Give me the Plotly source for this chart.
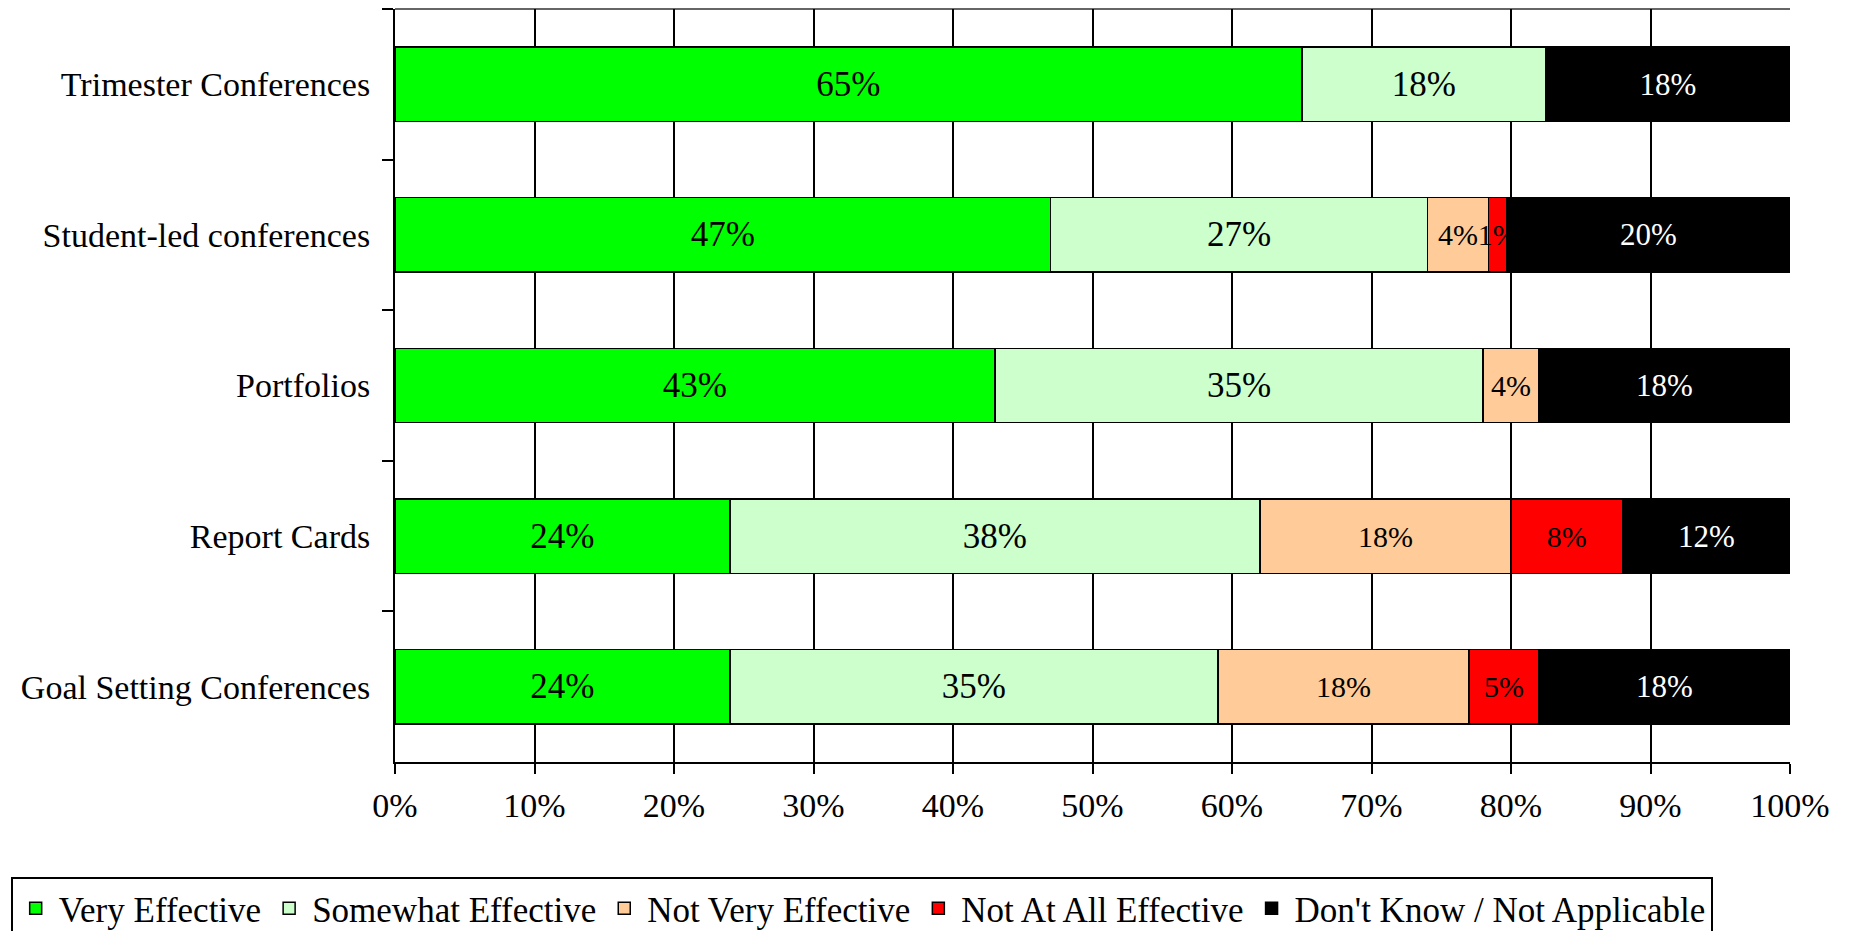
import plotly.graph_objects as go

categories = ["Trimester Conferences", "Student-led conferences", "Portfolios",
              "Report Cards", "Goal Setting Conferences"]

very_effective = [65, 47, 43, 24, 24]
somewhat_effective = [17.5, 27, 35, 38, 35]
not_very_effective = [0, 4.4, 4, 18, 18]
not_at_all_effective = [0, 1.3, 0, 8, 5]
dont_know = [17.5, 20.3, 18, 12, 18]

series_names = ["Very Effective", "Somewhat Effective", "Not Very Effective",
                "Not At All Effective", "Don't Know / Not Applicable"]
series_values = [very_effective, somewhat_effective, not_very_effective,
                 not_at_all_effective, dont_know]
series_colors = ["#00FF00", "#CCFFCC", "#FFCC99", "#FF0000", "#000000"]
text_colors = ["black", "black", "black", "black", "white"]
text_sizes = [35, 35, 30, 30, 31]

x_ticks = list(range(0, 101, 10))

FONT = "Liberation Serif, Times New Roman, serif"

fig = go.Figure()
for name, vals, col, tcol, tsize in zip(series_names, series_values, series_colors,
                                        text_colors, text_sizes):
    fig.add_trace(go.Bar(
        name=name,
        y=categories,
        x=vals,
        orientation="h",
        marker=dict(color=col, line=dict(color="black", width=1.5)),
        text=[f"{round(v)}%" if v > 0 else "" for v in vals],
        textposition="inside",
        insidetextanchor="middle",
        constraintext="none",
        textangle=0,
        textfont=dict(family=FONT, size=tsize, color=tcol),
        hoverinfo="skip",
    ))

fig.update_layout(
    barmode="stack",
    bargap=0.506,
    width=1853,
    height=955,
    margin=dict(l=386.5, r=70.5, t=0.5, b=201),
    paper_bgcolor="white",
    plot_bgcolor="white",
    font=dict(family=FONT, size=34, color="black"),
    showlegend=True,
    legend=dict(
        orientation="h",
        x=-0.2755, xanchor="left",
        y=-0.1526, yanchor="top",
        bordercolor="black",
        borderwidth=2,
        bgcolor="white",
        font=dict(family=FONT, size=35, color="black"),
        itemwidth=36,
        traceorder="normal",
    ),
    xaxis=dict(
        range=[0, 100],
        tickvals=x_ticks,
        ticktext=[f"{t}%" for t in x_ticks],
        showgrid=True,
        gridcolor="black",
        gridwidth=2,
        zeroline=False,
        showline=True,
        linecolor="black",
        linewidth=2,
        ticks="outside",
        ticklen=10,
        tickwidth=2,
        tickcolor="black",
        ticklabelstandoff=2,
        tickfont=dict(family=FONT, size=34, color="black"),
        fixedrange=True,
    ),
    yaxis=dict(
        categoryorder="array",
        categoryarray=categories,
        autorange="reversed",
        showgrid=False,
        zeroline=False,
        showline=True,
        linecolor="black",
        linewidth=2,
        ticks="outside",
        tickson="boundaries",
        ticklen=11,
        tickwidth=2,
        tickcolor="black",
        ticklabelstandoff=16,
        tickfont=dict(family=FONT, size=34, color="black"),
        fixedrange=True,
    ),
    shapes=[dict(type="line", xref="paper", yref="paper", x0=0, x1=1, y0=1, y1=1,
                 line=dict(color="#666666", width=2), layer="below")],
)

fig.write_html("out.html")
